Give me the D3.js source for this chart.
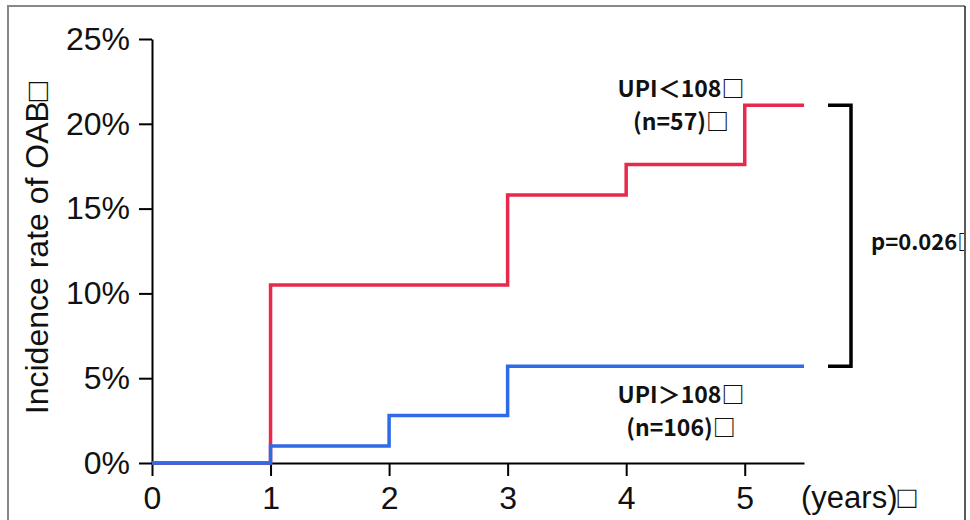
<!DOCTYPE html>
<html>
<head>
<meta charset="utf-8">
<script src="https://cdn.jsdelivr.net/npm/d3@7"></script>
<style>
  html, body { margin: 0; padding: 0; background: #fff; }
  svg { display: block; }
  .axis path, .axis line { stroke: #000; stroke-width: 2; }
  .axis text { font-family: "Liberation Sans", Arial, sans-serif; font-size: 32px; fill: #111; }
  .note { font-family: "Noto Sans CJK JP", sans-serif; font-weight: bold; fill: #111; }
</style>
</head>
<body>
<svg id="chart" width="970" height="520"></svg>
<script>
// follow-up years and cumulative incidence (%) per group
const years = [0, 1, 2, 3, 4, 5, 5.5];
const lowUpi = [0, 10.5, 10.5, 15.8, 17.6, 21.1, 21.1];   // UPI<108 (n=57)
const highUpi = [0, 1.0, 2.8, 5.7, 5.7, 5.7, 5.7];        // UPI>108 (n=106)
const yTicks = [0, 5, 10, 15, 20, 25];
const xTicks = [0, 1, 2, 3, 4, 5];
const lowLabel = ["UPI\uFF1C108\u25A1", "(n=57)\u25A1"];
const highLabel = ["UPI\uFF1E108\u25A1", "(n=106)\u25A1"];
const pLabel = "p=0.026\u25A1";

const svg = d3.select("#chart");

const x = d3.scaleLinear().domain([0, 5.5]).range([152, 804]);
const y = d3.scaleLinear().domain([0, 25]).range([463, 39]);

// frame
svg.append("clipPath").attr("id", "frame")
  .append("rect").attr("x", 8).attr("y", 6).attr("width", 956).attr("height", 520);
svg.append("path")
  .attr("d", "M8,530 V6 H965")
  .attr("fill", "none").attr("stroke", "#888").attr("stroke-width", 2);
svg.append("line")
  .attr("x1", 965).attr("x2", 965).attr("y1", 6).attr("y2", 520)
  .attr("stroke", "#222").attr("stroke-width", 1.5);

// axes
svg.append("g")
  .attr("class", "axis")
  .attr("transform", `translate(${x(0)},0)`)
  .call(d3.axisLeft(y).tickValues(yTicks).tickFormat(d => d + "%").tickSize(13).tickSizeOuter(0).tickPadding(9));

svg.append("g")
  .attr("class", "axis")
  .attr("transform", `translate(0,${y(0)})`)
  .call(d3.axisBottom(x).tickValues(xTicks).tickFormat(d3.format("d")).tickSize(13).tickSizeOuter(0).tickPadding(10));

svg.append("text")
  .attr("x", 801).attr("y", 508)
  .attr("font-family", "Liberation Sans, Arial, sans-serif")
  .attr("font-size", 31).attr("fill", "#111")
  .text("(years)\u25A1");

svg.append("text")
  .attr("transform", "translate(48,248) rotate(-90)")
  .attr("text-anchor", "middle")
  .attr("font-family", "Liberation Sans, Arial, sans-serif")
  .attr("font-size", 32).attr("fill", "#111")
  .text("Incidence rate of OAB\u25A1");

// step curves
const step = d3.line()
  .x((d, i) => x(years[i]))
  .y(d => y(d))
  .curve(d3.curveStepAfter);

svg.append("path")
  .datum(lowUpi)
  .attr("d", step)
  .attr("fill", "none").attr("stroke", "#e8294b").attr("stroke-width", 3.5);

svg.append("path")
  .datum(highUpi)
  .attr("d", step)
  .attr("fill", "none").attr("stroke", "#2f6be6").attr("stroke-width", 3.5);

// group labels
const addLabel = (lines, y0) => {
  svg.append("g").selectAll("text")
    .data(lines)
    .join("text")
    .attr("class", "note")
    .attr("x", 681)
    .attr("y", (d, i) => y0 + i * 33)
    .attr("text-anchor", "middle")
    .attr("font-size", 23)
    .text(d => d);
};
addLabel(lowLabel, 97);
addLabel(highLabel, 403);

// bracket between final values
const yTop = y(lowUpi[lowUpi.length - 1]);
const yBot = y(highUpi[highUpi.length - 1]);
svg.append("path")
  .attr("d", `M828,${yTop} H851 V${yBot} H828`)
  .attr("fill", "none").attr("stroke", "#000").attr("stroke-width", 3.5);

svg.append("text")
  .attr("class", "note")
  .attr("clip-path", "url(#frame)")
  .attr("x", 871).attr("y", 250)
  .attr("font-size", 22)
  .text(pLabel);
</script>
</body>
</html>
